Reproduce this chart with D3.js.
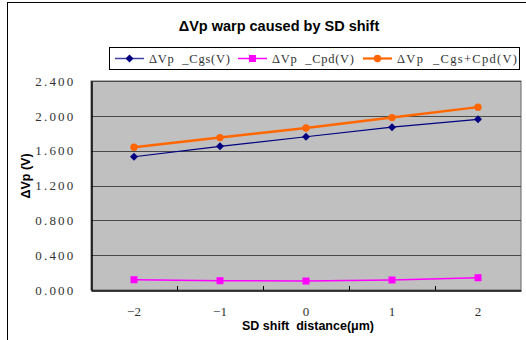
<!DOCTYPE html>
<html><head><meta charset="utf-8">
<script src="https://cdn.jsdelivr.net/npm/d3@7/dist/d3.min.js"></script>
<style>body{margin:0;background:#fff;} svg{display:block;} text{white-space:pre;}</style>
</head><body>
<svg id="c" width="526" height="340"></svg>
<script>
const categories = [-2, -1, 0, 1, 2];
const categoryLabels = ["\u22122", "\u22121", "0", "1", "2"];
const cgs = [1.53, 1.65, 1.76, 1.87, 1.96];
const cpd = [0.118, 0.107, 0.103, 0.115, 0.141];
const cgsCpd = [1.64, 1.75, 1.86, 1.98, 2.10];
const yTicks = [0, 0.4, 0.8, 1.2, 1.6, 2.0, 2.4];
const yTickLabels = ["0.000", "0.400", "0.800", "1.200", "1.600", "2.000", "2.400"];
const seriesNames = ["\u0394Vp  _Cgs(V)", "\u0394Vp  _Cpd(V)", "\u0394Vp  _Cgs+Cpd(V)"];
const titleText = "\u0394Vp warp caused by SD shift";
const xTitle = "SD shift  distance(\u03bcm)";
const yTitle = "\u0394Vp (V)";

const series = [
  {name: seriesNames[0], values: cgs, color: "#000080", width: 1.2, marker: "diamond"},
  {name: seriesNames[1], values: cpd, color: "#ff00ff", width: 1.5, marker: "square"},
  {name: seriesNames[2], values: cgsCpd, color: "#ff6600", width: 2.5, marker: "circle"}
];

const svg = d3.select("#c");
const L = 91, R = 521, T = 81, B = 290;

// outer border
svg.append("rect").attr("x", 7.5).attr("y", 2.5).attr("width", 540).attr("height", 360)
  .attr("fill", "#fff").attr("stroke", "#000").attr("stroke-width", 1);

// title
svg.append("text").attr("x", 279).attr("y", 31).attr("text-anchor", "middle")
  .attr("font-family", "Liberation Sans, Arial, sans-serif").attr("font-weight", "bold")
  .attr("font-size", 14.5).text(titleText);

const x = d3.scaleBand().domain(categories).range([L, R]).paddingInner(0).paddingOuter(0);
const y = d3.scaleLinear().domain([0, 2.4]).range([B, T]);

// plot background
svg.append("rect").attr("x", L).attr("y", T).attr("width", R - L).attr("height", B - T)
  .attr("fill", "#c0c0c0").attr("stroke", "#666").attr("stroke-width", 1);

// gridlines
svg.append("g").selectAll("line").data(yTicks.slice(1)).join("line")
  .attr("x1", L).attr("x2", R)
  .attr("y1", d => Math.round(y(d)) + 0.5).attr("y2", d => Math.round(y(d)) + 0.5)
  .attr("stroke", "#4a4a4a").attr("stroke-width", 1);

// y axis
const yAxis = d3.axisLeft(y).tickValues(yTicks).tickSize(0).tickPadding(16)
  .tickFormat((d, i) => yTickLabels[i]);
const gy = svg.append("g").attr("transform", `translate(${L + 0.5},0)`).call(yAxis);
gy.select(".domain").attr("stroke", "#000").attr("stroke-width", 1.5);
gy.selectAll("text").attr("font-family", "Liberation Serif, serif").attr("font-size", 13)
  .attr("letter-spacing", "2.2px").attr("fill", "#333");

// x axis
const xAxis = d3.axisBottom(x).tickSize(0).tickPadding(16)
  .tickFormat((d, i) => categoryLabels[i]);
const gx = svg.append("g").attr("transform", `translate(0,${B + 0.5})`).call(xAxis);
gx.select(".domain").attr("stroke", "#000").attr("stroke-width", 1.5);
gx.selectAll("text").attr("font-family", "Liberation Serif, serif").attr("font-size", 13).attr("fill", "#333");
// inward tick marks at category boundaries
svg.append("g").selectAll("line").data(categories.slice(1)).join("line")
  .attr("x1", d => Math.round(x(d)) + 0.5).attr("x2", d => Math.round(x(d)) + 0.5)
  .attr("y1", B).attr("y2", B - 4).attr("stroke", "#000").attr("stroke-width", 1);

// axis titles
svg.append("text").attr("x", 308).attr("y", 330).attr("text-anchor", "middle")
  .attr("font-family", "Liberation Sans, Arial, sans-serif").attr("font-weight", "bold")
  .attr("font-size", 12.5).text(xTitle);
svg.append("text").attr("transform", "translate(30,176) rotate(-90)").attr("text-anchor", "middle")
  .attr("font-family", "Liberation Sans, Arial, sans-serif").attr("font-weight", "bold")
  .attr("font-size", 12.5).text(yTitle);

function drawMarker(g, type, cx, cy, color) {
  if (type === "diamond") {
    g.append("path").attr("d", `M${cx},${cy-4}L${cx+4},${cy}L${cx},${cy+4}L${cx-4},${cy}Z`).attr("fill", color);
  } else if (type === "square") {
    g.append("rect").attr("x", cx - 3.5).attr("y", cy - 3.5).attr("width", 7).attr("height", 7).attr("fill", color);
  } else {
    g.append("circle").attr("cx", cx).attr("cy", cy).attr("r", 3.7).attr("fill", color);
  }
}

const cx = d => x(d) + x.bandwidth() / 2;
const line = d3.line().x(d => cx(d[0])).y(d => y(d[1]));
series.forEach(s => {
  const pts = categories.map((c, i) => [c, s.values[i]]);
  const g = svg.append("g");
  g.append("path").attr("d", line(pts)).attr("fill", "none").attr("stroke", s.color).attr("stroke-width", s.width);
  pts.forEach(p => drawMarker(g, s.marker, cx(p[0]), y(p[1]), s.color));
});

// legend
const lg = svg.append("g");
lg.append("rect").attr("x", 109.5).attr("y", 47.5).attr("width", 410).attr("height", 22)
  .attr("fill", "#fff").attr("stroke", "#000").attr("stroke-width", 1);
const legendX = [115, 238, 363];
const textWidths = [81, 82, 120];
series.forEach((s, i) => {
  const lx = legendX[i];
  lg.append("line").attr("x1", lx).attr("x2", lx + 29).attr("y1", 58.5).attr("y2", 58.5)
    .attr("stroke", s.color).attr("stroke-width", s.width > 2 ? 2.2 : 1.5).attr("stroke-opacity", i === 0 ? 0.75 : 1);
  drawMarker(lg, s.marker, lx + 14.5, 58.5, s.color);
  lg.append("text").attr("x", lx + 34).attr("y", 63).attr("font-family", "Liberation Serif, serif")
    .attr("font-size", 12.5).attr("fill", "#333")
    .attr("textLength", textWidths[i]).attr("lengthAdjust", "spacing").text(s.name);
});
</script>
</body></html>
